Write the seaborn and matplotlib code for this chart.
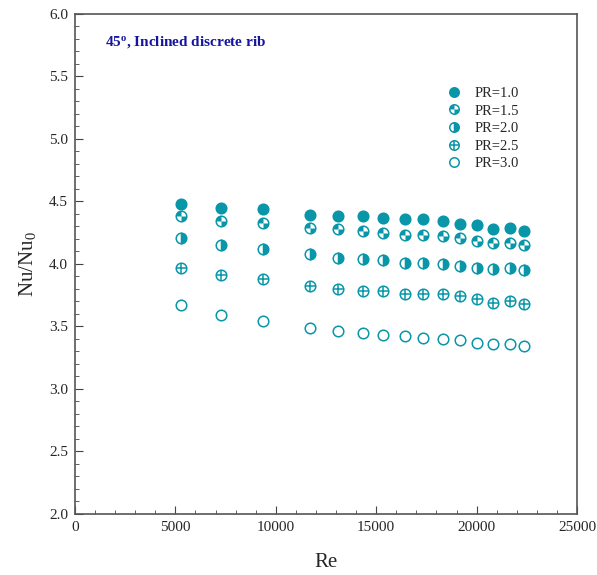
import numpy as np
import pandas as pd
import seaborn as sns
import matplotlib.pyplot as plt
from matplotlib.path import Path
from matplotlib.lines import Line2D
from matplotlib.ticker import MultipleLocator

re_vals = [5270, 7260, 9340, 11680, 13120, 14360, 15350, 16450, 17350,
           18340, 19190, 20030, 20830, 21670, 22370]
pr_labels = ["PR=1.0", "PR=1.5", "PR=2.0", "PR=2.5", "PR=3.0"]
nu_pr10 = [4.48, 4.45, 4.44, 4.39, 4.38, 4.38, 4.37, 4.36, 4.36, 4.34, 4.32, 4.31, 4.28, 4.29, 4.26]
nu_pr15 = [4.38, 4.34, 4.33, 4.29, 4.28, 4.26, 4.25, 4.23, 4.23, 4.22, 4.21, 4.18, 4.17, 4.17, 4.15]
nu_pr20 = [4.21, 4.15, 4.12, 4.08, 4.05, 4.04, 4.03, 4.01, 4.01, 4.00, 3.98, 3.97, 3.96, 3.97, 3.95]
nu_pr25 = [3.97, 3.91, 3.88, 3.82, 3.80, 3.78, 3.78, 3.76, 3.76, 3.76, 3.74, 3.72, 3.69, 3.70, 3.68]
nu_pr30 = [3.67, 3.59, 3.54, 3.49, 3.46, 3.45, 3.43, 3.42, 3.41, 3.40, 3.39, 3.37, 3.36, 3.36, 3.34]

series = [nu_pr10, nu_pr15, nu_pr20, nu_pr25, nu_pr30]
df = pd.concat([pd.DataFrame({"Re": re_vals, "Nu": v, "PR": lab})
                for lab, v in zip(pr_labels, series)], ignore_index=True)

sns.set_style("ticks")
plt.rcParams["font.family"] = ["Liberation Serif", "DejaVu Serif"]
plt.rcParams["mathtext.fontset"] = "custom"
plt.rcParams["mathtext.rm"] = "Liberation Serif"
plt.rcParams["mathtext.bf"] = "Liberation Serif:bold"
plt.rcParams["mathtext.it"] = "Liberation Serif:italic"

teal = "#0896a8"
ms = 7.6
mew = 1.1

# two opposite quadrants for the PR=1.5 marker
quad = Path.make_compound_path(Path.wedge(90, 180), Path.wedge(270, 360))

fig = plt.figure(figsize=(5.97, 5.75), dpi=100)
ax = fig.add_axes([0.1256, 0.1061, 0.8409, 0.8696])

# (marker, fillstyle, facecolor) layers per series
layers = {
    "PR=1.0": [("o", "full", teal)],
    "PR=1.5": [("o", "full", "white"), (quad, "full", teal)],
    "PR=2.0": [("o", "right", teal)],
    "PR=2.5": [("o", "full", "white"), ("+", "full", teal)],
    "PR=3.0": [("o", "full", "white")],
}

handles = []
for lab in pr_labels:
    sub = df[df["PR"] == lab]
    hs = []
    for mk, fs, fc in layers[lab]:
        sns.lineplot(data=sub, x="Re", y="Nu", ax=ax, estimator=None, sort=False,
                     linestyle="none", marker=mk, markersize=ms, fillstyle=fs,
                     markerfacecolor=fc, markerfacecoloralt="white",
                     markeredgecolor=teal, markeredgewidth=mew if mk is not quad else 0.0,
                     color=teal, legend=False)
        hs.append(Line2D([], [], linestyle="none", marker=mk, markersize=ms - 0.8, fillstyle=fs,
                         markerfacecolor=fc, markerfacecoloralt="white",
                         markeredgecolor=teal, markeredgewidth=mew if mk is not quad else 0.0))
    handles.append(tuple(hs))

ax.legend(handles, pr_labels, loc="upper left", bbox_to_anchor=(0.724, 0.869),
          frameon=False, fontsize=10.5, handlelength=1.2, handletextpad=0.8,
          labelspacing=0.3, borderpad=0)

ax.set_xlim(0, 25000)
ax.set_ylim(2.0, 6.0)
ax.xaxis.set_major_locator(MultipleLocator(5000))
ax.xaxis.set_minor_locator(MultipleLocator(1000))
ax.yaxis.set_major_locator(MultipleLocator(0.5))
ax.yaxis.set_minor_locator(MultipleLocator(0.1))
ax.yaxis.set_major_formatter(plt.FormatStrFormatter("%.1f"))
ax.tick_params(which="both", direction="in", top=False, right=False,
               labelsize=11, color="#444444")
ax.tick_params(which="major", length=6, pad=5)
ax.tick_params(which="minor", length=3)
for sp in ax.spines.values():
    sp.set_color("#555555")
    sp.set_linewidth(1.2)

ax.set_xlabel("Re", fontsize=15, labelpad=14)
ax.set_ylabel("Nu/Nu$_0$", fontsize=15, labelpad=8)

ax.text(0.06, 0.944, r"45$^{\mathbf{o}}$, Inclined discrete rib", transform=ax.transAxes,
        fontsize=11, fontweight="bold", color="#1414a0", va="center", ha="left")

fig.savefig("out.png", dpi=100)
